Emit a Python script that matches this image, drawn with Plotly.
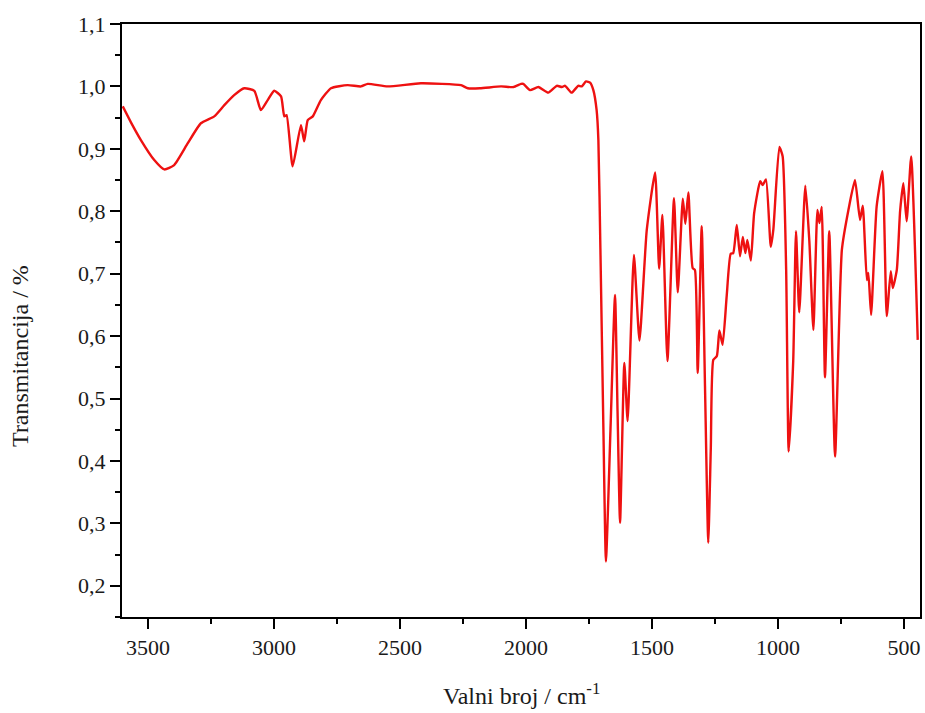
import plotly.graph_objects as go

wavenumber = [3600, 3567, 3528, 3475, 3435, 3396, 3342, 3290, 3237, 3197, 3158, 3118, 3078, 3052,
              3025, 2999, 2972, 2959, 2950, 2926, 2893, 2880, 2866, 2846, 2814, 2774, 2708, 2655,
              2628, 2549, 2417, 2258, 2231, 2183, 2099, 2050, 2020, 2011, 1984, 1951, 1912, 1878,
              1858, 1845, 1819, 1793, 1779, 1762, 1746, 1733, 1720, 1713, 1705, 1693, 1683, 1665,
              1647, 1637, 1627, 1610, 1597, 1572, 1550, 1521, 1488, 1472, 1459, 1439, 1413, 1398,
              1378, 1368, 1356, 1339, 1330, 1319, 1303, 1290, 1277, 1267, 1257, 1243, 1233, 1220,
              1204, 1188, 1178, 1164, 1151, 1140, 1130, 1122, 1108, 1095, 1071, 1061, 1048, 1029,
              1019, 995, 982, 968, 958, 940, 929, 916, 892, 876, 860, 844, 836, 827, 814, 797,
              774, 747, 721, 695, 675, 664, 648, 642, 631, 609, 586, 569, 553, 545, 529, 516,
              503, 490, 472, 446]
transmittance = [0.968, 0.942, 0.914, 0.882, 0.867, 0.874, 0.909, 0.941, 0.952, 0.970, 0.986, 0.997,
                 0.993, 0.962, 0.978, 0.993, 0.984, 0.952, 0.954, 0.872, 0.938, 0.912, 0.946, 0.952,
                 0.978, 0.997, 1.002, 1.000, 1.004, 1.000, 1.005, 1.002, 0.997, 0.997, 1.000, 0.999,
                 1.004, 1.004, 0.994, 0.999, 0.990, 1.001, 0.999, 1.001, 0.990, 1.001, 1.000, 1.008,
                 1.006, 0.994, 0.962, 0.914, 0.740, 0.450, 0.239, 0.450, 0.666, 0.480, 0.301, 0.557,
                 0.464, 0.730, 0.593, 0.770, 0.862, 0.708, 0.794, 0.560, 0.821, 0.670, 0.820, 0.780,
                 0.830, 0.709, 0.706, 0.541, 0.776, 0.520, 0.269, 0.420, 0.562, 0.568, 0.609, 0.586,
                 0.664, 0.732, 0.733, 0.778, 0.728, 0.759, 0.733, 0.754, 0.721, 0.797, 0.848, 0.842,
                 0.851, 0.743, 0.770, 0.903, 0.888, 0.706, 0.415, 0.560, 0.768, 0.638, 0.841, 0.752,
                 0.610, 0.802, 0.781, 0.807, 0.534, 0.768, 0.407, 0.738, 0.802, 0.850, 0.786, 0.809,
                 0.690, 0.701, 0.634, 0.808, 0.864, 0.632, 0.704, 0.677, 0.706, 0.800, 0.845, 0.784,
                 0.888, 0.594]

x_tick_vals = [3500, 3000, 2500, 2000, 1500, 1000, 500]
y_tick_vals = [0.2, 0.3, 0.4, 0.5, 0.6, 0.7, 0.8, 0.9, 1.0, 1.1]
y_tick_text = ["0,2", "0,3", "0,4", "0,5", "0,6", "0,7", "0,8", "0,9", "1,0", "1,1"]

font_family = "Liberation Serif, Times New Roman, serif"

fig = go.Figure()
fig.add_trace(go.Scatter(x=wavenumber, y=transmittance, mode="lines",
                         line=dict(color="#ee1111", width=2.4, shape="spline", smoothing=0.5),
                         showlegend=False))

fig.update_layout(
    width=925, height=713,
    margin=dict(l=122, r=5, t=24, b=96),
    paper_bgcolor="white", plot_bgcolor="white",
    font=dict(family=font_family, size=22, color="#1a1a1a"),
    xaxis=dict(range=[3603, 437], showgrid=False, zeroline=False, automargin=False,
               showline=True, linecolor="black", linewidth=2, mirror=True,
               ticks="outside", ticklen=10, tickwidth=2, tickcolor="black",
               tickvals=x_tick_vals, ticktext=[str(v) for v in x_tick_vals],
               minor=dict(ticks="outside", ticklen=5, tickwidth=2, tickcolor="black", dtick=250,
                          tick0=500, showgrid=False),
               tickfont=dict(size=22)),
    yaxis=dict(range=[0.15, 1.1], showgrid=False, zeroline=False, automargin=False,
               showline=True, linecolor="black", linewidth=2, mirror=True,
               ticks="outside", ticklen=10, tickwidth=2, tickcolor="black",
               tickvals=y_tick_vals, ticktext=y_tick_text,
               minor=dict(ticks="outside", ticklen=5, tickwidth=2, tickcolor="black", dtick=0.05,
                          tick0=0.15, showgrid=False),
               tickfont=dict(size=22)),
    annotations=[
        dict(text="Transmitancija / %", xref="paper", yref="paper",
             x=-0.128, y=0.44, textangle=-90, showarrow=False,
             xanchor="center", yanchor="middle", font=dict(size=24)),
        dict(text="Valni broj / cm<sup>-1</sup>", xref="paper", yref="paper",
             x=0.5, y=-0.13, showarrow=False,
             xanchor="center", yanchor="middle", font=dict(size=24)),
    ],
)

fig.write_html("out.html",
               config={"displayModeBar": False},
               post_script="document.body.style.margin='0';document.body.style.overflow='hidden';")
